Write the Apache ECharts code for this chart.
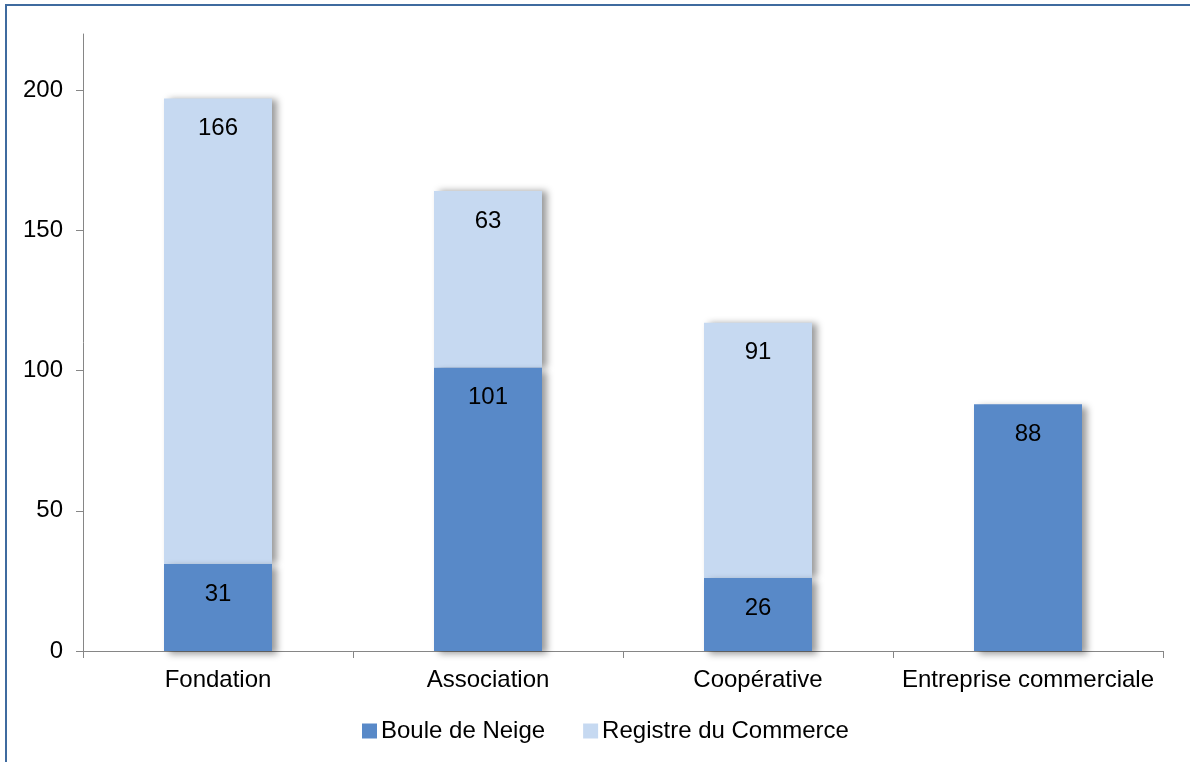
<!DOCTYPE html>
<html>
<head>
<meta charset="utf-8">
<script src="https://cdn.jsdelivr.net/npm/echarts@6/dist/echarts.min.js"></script>
<style>
  html, body { margin: 0; padding: 0; background: #fff; }
  #frame { position: absolute; left: 5px; top: 4px; width: 1200px; height: 800px;
    border-top: 2px solid #3f6b9f; border-left: 2px solid #3f6b9f; }
  #chart { position: absolute; left: 0; top: 0; width: 1190px; height: 762px; }
</style>
</head>
<body>
<div id="frame"></div>
<div id="chart"></div>
<script>
const categories = ['Fondation', 'Association', 'Coopérative', 'Entreprise commerciale']
const bouleDeNeige = [31, 101, 26, 88]
const registreCommerce = [166, 63, 91, null]
const yTicks = [0, 50, 100, 150, 200]

const chart = echarts.init(document.getElementById('chart'))
const font = 'Liberation Sans, Arial, sans-serif'
const labelStyle = { show: true, position: 'insideTop', distance: 18, fontSize: 24, color: '#000', fontFamily: font }
chart.setOption({
  animation: false,
  textStyle: { fontFamily: font },
  grid: { left: 83, right: 27, top: 34, bottom: 111 },
  legend: {
    bottom: 14,
    left: 357,
    icon: 'rect',
    itemWidth: 15,
    itemHeight: 15,
    itemGap: 38,
    textStyle: { fontSize: 24, color: '#000', fontFamily: font, padding: [0, 0, 0, -1] },
    data: ['Boule de Neige', 'Registre du Commerce']
  },
  xAxis: {
    type: 'category',
    data: categories,
    axisLine: { lineStyle: { color: '#868686', width: 1 } },
    axisTick: { show: true, length: 7, lineStyle: { color: '#868686' } },
    axisLabel: { interval: 0, fontSize: 24, color: '#000', margin: 17, fontFamily: font }
  },
  yAxis: {
    type: 'value',
    min: 0,
    max: 220,
    interval: 10,
    splitLine: { show: false },
    axisLine: { show: true, lineStyle: { color: '#868686', width: 1 } },
    axisTick: { show: true, length: 7, customValues: yTicks, lineStyle: { color: '#868686' } },
    axisLabel: { fontSize: 24, color: '#000', margin: 20, customValues: yTicks, fontFamily: font }
  },
  series: [{
    name: 'Boule de Neige',
    type: 'bar',
    stack: 'total',
    barWidth: '40%',
    z: 3,
    data: bouleDeNeige,
    itemStyle: {
      color: '#5889c8',
      shadowColor: 'rgba(0,0,0,0.4)',
      shadowBlur: 7,
      shadowOffsetX: 5,
      shadowOffsetY: 3
    },
    label: labelStyle
  }, {
    name: 'Registre du Commerce',
    type: 'bar',
    stack: 'total',
    barWidth: '40%',
    z: 2,
    data: registreCommerce,
    itemStyle: {
      color: '#c6d9f1',
      shadowColor: 'rgba(0,0,0,0.4)',
      shadowBlur: 7,
      shadowOffsetX: 5,
      shadowOffsetY: 0
    },
    label: labelStyle
  }]
})
</script>
</body>
</html>
